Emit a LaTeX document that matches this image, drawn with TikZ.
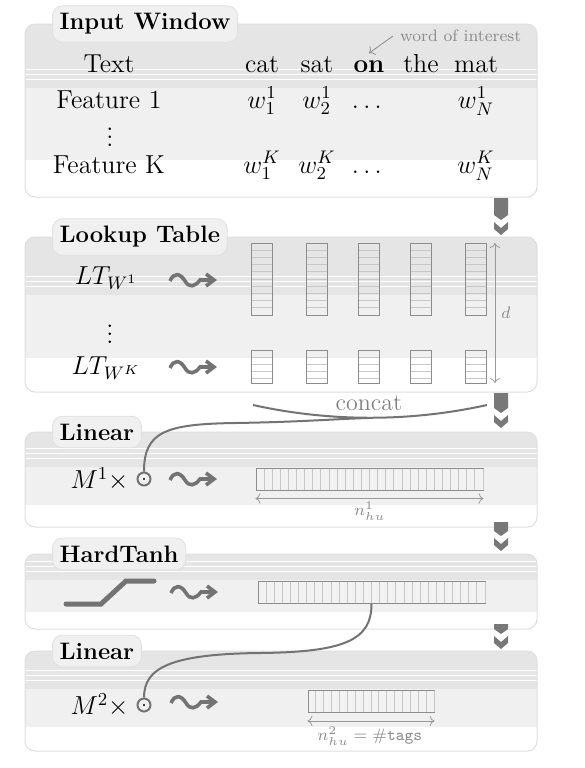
\RequirePackage{fix-cm}
\documentclass[tikz,border=0pt]{standalone}
\usepackage{amsmath,amssymb}
\usetikzlibrary{arrows.meta, positioning, calc}

% wavy arrow used between rows and their vectors
\newcommand{\wavearrow}[2]{%
  \draw[squig] (#1,#2+1) .. controls (#1+4,#2-8) and (#1+10,#2-7) .. (#1+15,#2+1)
    .. controls (#1+19,#2+8) and (#1+25,#2+7) .. (#1+30,#2) -- (#1+47,#2);}

\begin{document}
\begin{tikzpicture}[x=0.5pt, y=-0.5pt,
    font=\fontsize{13}{15}\selectfont,
    layer/.style={draw=black!13, line width=0.5pt, rounded corners=5pt},
    tabbox/.style={draw=black!12, fill=black!6, rounded corners=5pt, anchor=west,
      inner xsep=3.6pt, inner ysep=3.8pt, font=\fontsize{11.9}{13}\selectfont\bfseries},
    wire/.style={black!55, line width=1pt},
    squig/.style={black!55, line width=1.8pt, -{Straight Barb[length=4pt,width=6pt]}},
    dimline/.style={black!40, line width=0.4pt, {To[length=2.5pt]}-{To[length=2.5pt]}},
    dimlabel/.style={text=black!45, font=\fontsize{8.3}{9}\selectfont},
    cell/.style={black!22, line width=0.4pt},
    vecbox/.style={draw=black!45, fill=black!5, line width=0.5pt, inner sep=0pt},
    odot/.style={circle, draw=black!55, line width=1pt, minimum size=6.5pt, inner sep=0pt},
]
  \useasboundingbox (0,0) rectangle (585,768);

  % Layer backgrounds (shaded bands)
  \foreach \t/\a/\b/\u in {24/88/160/197, 237/295/358/392, 432/467/505/527,
                           554/580/612/629, 651/689/727/751} {
    \begin{scope}
      \clip[rounded corners=5pt] (25,\t) rectangle (537,\u);
      \fill[black!10] (25,\t) rectangle (537,\a);
      \fill[black!6] (25,\a) rectangle (537,\b);
      \foreach \s in {9,14,19}
        \draw[white, line width=0.3pt] (25,\a-\s) -- (537,\a-\s);
    \end{scope}
    \draw[layer] (25,\t) rectangle (537,\u);
  }

  % Layer titles
  \node[tabbox] (tin) at (52,24) {Input Window};
  \node[tabbox] (tlt) at (52,237) {Lookup Table};
  \node[tabbox] (tla) at (52,432) {Linear};
  \node[tabbox] (tht) at (52,554) {HardTanh};
  \node[tabbox] (tlb) at (52,651) {Linear};

  % Flow chevrons
  \foreach \t/\p/\c in {198/220/222, 393/413/415, 522/536/538, 624/634/636} {
    \fill[black!53] (494,\t) -- (508,\t) -- (508,\p-5) -- (501,\p) -- (494,\p-5) -- cycle;
    \fill[black!53] (494,\c) -- (501,\c+6) -- (508,\c) -- (508,\c+7) -- (501,\c+13) -- (494,\c+7) -- cycle;
  }

  % Input window
  \node[anchor=base] (ttext) at (109,72) {Text};
  \foreach \nm/\x/\w in {cat/262/cat, sat/317/sat, on/369/\textbf{on}, the/421/the, mat/476/mat}
    \node[anchor=base] (w\nm) at (\x,72) {\w};
  \node[anchor=base] (fone) at (109,108) {Feature 1};
  \node (fdots) at (110,131) {$\vdots$};
  \node[anchor=base] (fK) at (109,173) {Feature K};
  \foreach \x/\s in {262/1, 317/2, 476/N} {
    \node[anchor=base] (wa\s) at (\x,108) {$w_{\s}^1$};
    \node[anchor=base] (wk\s) at (\x,173) {$w_{\s}^K$};
  }
  \node[anchor=base] (wadots) at (369,108) {$\dots$};
  \node[anchor=base] (wkdots) at (369,173) {$\dots$};
  \node[dimlabel, anchor=west] (woi) at (393,36) {word of interest};
  \draw[black!45, line width=0.4pt, -{To[length=2.5pt]}] (woi.west) -- (won.north);

  % Lookup table
  \node (ltone) at (106,278) {$LT_{W^1}$};
  \node (ltdots) at (110,328) {$\vdots$};
  \node (ltK) at (106,368) {$LT_{W^K}$};
  \wavearrow{170}{280}
  \wavearrow{170}{367}
  \foreach \x in {262,317,369,421,476} {
    \foreach \i in {1,...,9} \draw[cell] (\x-10.5,243+\i*7.2) -- (\x+10.5,243+\i*7.2);
    \foreach \i in {1,...,4} \draw[cell] (\x-10.5,350+\i*7.2) -- (\x+10.5,350+\i*7.2);
    \draw[vecbox, fill=none] (\x-10.5,243) rectangle (\x+10.5,315);
    \draw[vecbox, fill=none] (\x-10.5,350) rectangle (\x+10.5,383);
  }
  \coordinate (dtop) at (495,243);
  \coordinate (dbot) at (495,383);
  \draw[dimline] (dtop) -- (dbot);
  \node[dimlabel] (dlab) at (506,313) {$d$};

  % Concatenation
  \coordinate (cl) at (253,405);
  \coordinate (cr) at (487,405);
  \coordinate (cc) at (368,418);
  \draw[wire] (cl) .. controls (330,422) and (410,422) .. (cr);
  \node[text=black!50, anchor=base, font=\fontsize{12}{14}\selectfont] (concat) at (369,410) {concat};

  % Vectors
  \foreach \nm/\cx/\cy/\w/\n in {vlin/369.5/479/227/28, hvec/371.5/592.5/227/28, vout/371/701.5/126/16} {
    \node[vecbox, minimum width=\w*0.5pt, minimum height=11pt] (\nm) at (\cx,\cy) {};
    \foreach \i in {1,...,\n}
      \draw[cell] ({\cx-\w/2+\i*\w/\n},\cy-10.5) -- ({\cx-\w/2+\i*\w/\n},\cy+10.5);
  }
  \draw[dimline] ([yshift=-4pt]vlin.south west) -- ([yshift=-4pt]vlin.south east);
  \node[dimlabel] (nhu) at (370,511) {$n_{hu}^1$};
  \draw[dimline] ([yshift=-4pt]vout.south west) -- ([yshift=-4pt]vout.south east);
  \node[dimlabel] (ntags) at (370,736) {$n_{hu}^2 = \#$\texttt{tags}};

  % Linear layers
  \node[odot] (mone) at (144,479) {};
  \fill[black] (mone) circle (0.6pt);
  \node[left=0.5pt of mone] (mlone) {$M^1\times$};
  \wavearrow{170}{479}
  \node[odot] (mtwo) at (144,705) {};
  \fill[black] (mtwo) circle (0.6pt);
  \node[left=0.5pt of mtwo] (mltwo) {$M^2\times$};
  \wavearrow{171}{702}

  % HardTanh
  \draw[black!55, line width=2.5pt, line cap=round] (66,604) -- (101,604) -- (126,581) -- (154,581);
  \wavearrow{171}{592}

  % Wires into the linear layers
  \draw[wire] (mone.north) .. controls (144,432) and (165,424) .. (235,423)
        .. controls (300,422) and (335,419) .. (cc);
  \draw[wire] (hvec.south) .. controls (371.5,640) and (345,652) .. (260,653)
        .. controls (170,654) and (144,668) .. (mtwo.north);
\end{tikzpicture}
\end{document}
